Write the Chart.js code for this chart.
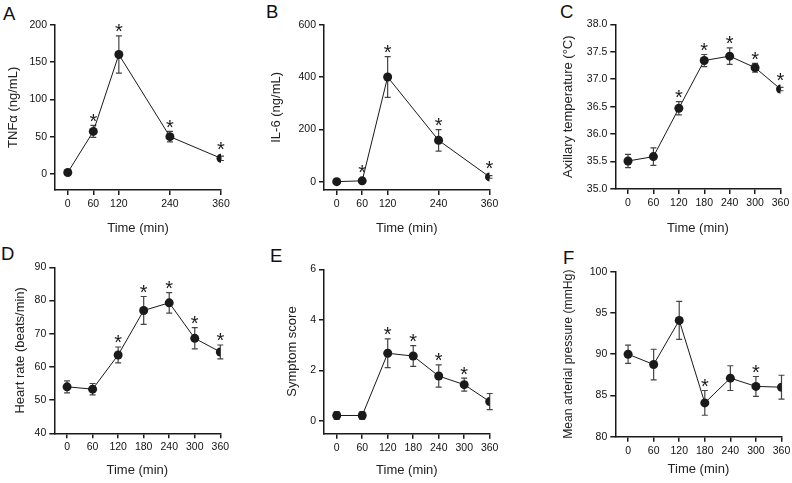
<!DOCTYPE html>
<html>
<head>
<meta charset="utf-8">
<script src="https://cdn.jsdelivr.net/npm/chart.js@4.4.0/dist/chart.umd.min.js"></script>
<style>
  body { margin: 0; background: #fff; width: 792px; height: 483px; position: relative; overflow: hidden;
         font-family: "Liberation Sans", Arial, sans-serif; }
  canvas { position: absolute; }
  .letter { position: absolute; font-size: 18.5px; line-height: 18.5px; color: #111; }
</style>
</head>
<body>
<div class="letter" style="left:3px;top:4.5px">A</div>
<div class="letter" style="left:266px;top:3px">B</div>
<div class="letter" style="left:560px;top:3px">C</div>
<div class="letter" style="left:1px;top:245px">D</div>
<div class="letter" style="left:270px;top:247px">E</div>
<div class="letter" style="left:563px;top:248.5px">F</div>

<canvas id="chartA"></canvas>
<canvas id="chartB"></canvas>
<canvas id="chartC"></canvas>
<canvas id="chartD"></canvas>
<canvas id="chartE"></canvas>
<canvas id="chartF"></canvas>

<script>
// time points
const timesAB = [0, 60, 120, 240, 360];
const timesCF = [0, 60, 120, 180, 240, 300, 360];
const xTicksAB = [0, 60, 120, 240, 360];
const xTicksCF = [0, 60, 120, 180, 240, 300, 360];

// A - TNFa
const tnfMean = [2, 57, 160, 50, 21];
const tnfErr = [1, 8, 25, 7, 3];
const tnfSig = [0, 1, 1, 1, 1];
const tnfTicks = [0, 50, 100, 150, 200];

// B - IL-6
const il6Mean = [0, 3, 400, 158, 18];
const il6Err = [2, 3, 78, 41, 5];
const il6Sig = [0, 1, 1, 1, 1];
const il6Ticks = [0, 200, 400, 600];

// C - axillary temperature
const tempMean = [35.51, 35.59, 36.47, 37.34, 37.42, 37.21, 36.82];
const tempErr = [0.12, 0.16, 0.12, 0.11, 0.15, 0.08, 0.03];
const tempSig = [0, 0, 1, 1, 1, 1, 1];
const tempTicks = [35.0, 35.5, 36.0, 36.5, 37.0, 37.5, 38.0];

// D - heart rate
const hrMean = [54.0, 53.3, 63.6, 77.0, 79.3, 68.6, 64.5];
const hrErr = [1.8, 1.7, 2.4, 4.2, 3.1, 3.2, 2.1];
const hrSig = [0, 0, 1, 1, 1, 1, 1];
const hrTicks = [40, 50, 60, 70, 80, 90];

// E - symptom score
const symMean = [0.22, 0.22, 2.68, 2.57, 1.78, 1.44, 0.77];
const symErr = [0.15, 0.15, 0.57, 0.41, 0.44, 0.26, 0.32];
const symSig = [0, 0, 1, 1, 1, 1, 0];
const symTicks = [0, 2, 4, 6];

// F - mean arterial pressure
const mapMean = [90.0, 88.75, 94.1, 84.1, 87.1, 86.1, 86.0];
const mapErr = [1.1, 1.85, 2.3, 1.5, 1.5, 1.2, 1.45];
const mapSig = [0, 0, 0, 1, 0, 1, 0];
const mapTicks = [80, 85, 90, 95, 100];

const FONT = '"Liberation Sans", Arial, sans-serif';
const INK = '#1a1a1a';
const TITLE_SIZE = 13;
const TITLE_LH = 16; // px, keeps the title centre on whole pixels

// error bars + significance stars
const errorBarPlugin = {
  id: 'errorBars',
  beforeDatasetsDraw(chart) {
    const ds = chart.data.datasets[0];
    const x = chart.scales.x, y = chart.scales.y;
    const ctx = chart.ctx;
    ctx.save();
    ctx.strokeStyle = '#444';
    ctx.lineWidth = 1.2;
    ds.data.forEach((p, i) => {
      const px = x.getPixelForValue(p.x);
      const top = y.getPixelForValue(p.y + ds.errors[i]);
      const bot = y.getPixelForValue(p.y - ds.errors[i]);
      ctx.beginPath();
      ctx.moveTo(px, top); ctx.lineTo(px, bot);
      ctx.moveTo(px - 3, top); ctx.lineTo(px + 3, top);
      ctx.moveTo(px - 3, bot); ctx.lineTo(px + 3, bot);
      ctx.stroke();
    });
    ctx.restore();
  },
  afterDatasetsDraw(chart) {
    const ds = chart.data.datasets[0];
    const x = chart.scales.x, y = chart.scales.y;
    const ctx = chart.ctx;
    ctx.save();
    ctx.fillStyle = INK;
    ctx.font = '20px ' + FONT;
    ctx.textAlign = 'center';
    ctx.textBaseline = 'alphabetic';
    const m = ctx.measureText('*');
    const shift = (m.actualBoundingBoxDescent - m.actualBoundingBoxAscent) / 2;
    ds.data.forEach((p, i) => {
      if (!ds.stars[i]) return;
      const px = x.getPixelForValue(p.x);
      const top = Math.min(y.getPixelForValue(p.y + ds.errors[i]), y.getPixelForValue(p.y) - 4.5);
      const cy = top - 7.5;
      ctx.fillText('*', px, cy - shift);
    });
    ctx.restore();
  }
};

function makePanel(cfg) {
  const canvas = document.getElementById(cfg.id);
  const ySize = cfg.yTitleSize || TITLE_SIZE;
  const cLeft = Math.round(cfg.yTitleX - TITLE_LH / 2);
  const cTop = cfg.cellTop;
  const cWidth = Math.round(cfg.box.right + 16) - cLeft;
  const cHeight = Math.round(cfg.xTitleY + TITLE_LH / 2) - cTop;
  canvas.width = cWidth;
  canvas.height = cHeight;
  canvas.style.left = cLeft + 'px';
  canvas.style.top = cTop + 'px';
  canvas.style.width = cWidth + 'px';
  canvas.style.height = cHeight + 'px';

  const yWidth = cfg.box.left - cLeft;
  const xHeight = cHeight - (cfg.box.bottom - cTop);

  const axisLine = { display: true, color: INK, width: 1.5 };
  const tickGrid = { display: true, drawOnChartArea: false, drawTicks: true, tickLength: 5, color: INK, lineWidth: 1.5 };
  const tickFont = { family: FONT, size: 10.5, weight: 'normal' };

  return new Chart(canvas.getContext('2d'), {
    type: 'line',
    data: {
      datasets: [{
        data: cfg.times.map((t, i) => ({ x: t, y: cfg.mean[i] })),
        errors: cfg.err,
        stars: cfg.sig,
        borderColor: INK,
        borderWidth: 1,
        pointRadius: 4.5,
        pointBackgroundColor: INK,
        pointBorderWidth: 0,
        tension: 0
      }]
    },
    options: {
      responsive: false,
      animation: false,
      layout: { padding: { left: 0, bottom: 0, top: cfg.box.top - cTop, right: cLeft + cWidth - cfg.box.right } },
      plugins: { legend: { display: false }, tooltip: { enabled: false } },
      scales: {
        x: {
          type: 'linear',
          min: -30,
          max: 360,
          border: axisLine,
          grid: tickGrid,
          ticks: { font: tickFont, color: '#111', padding: 3, maxRotation: 0, autoSkip: false },
          afterBuildTicks: s => { s.ticks = cfg.xTicks.map(v => ({ value: v })); },
          afterFit: s => { s.height = xHeight; },
          title: { display: true, text: 'Time (min)', color: '#222', padding: 0,
                   font: { family: FONT, size: TITLE_SIZE, weight: 'normal', lineHeight: TITLE_LH / TITLE_SIZE } }
        },
        y: {
          min: cfg.yMin,
          max: cfg.yMax,
          border: axisLine,
          grid: tickGrid,
          ticks: { font: tickFont, color: '#111', padding: 3, callback: cfg.yFmt || (v => String(v)) },
          afterBuildTicks: s => { s.ticks = cfg.yTicks.map(v => ({ value: v })); },
          afterFit: s => { s.width = yWidth; },
          title: { display: true, text: cfg.yTitle, color: '#222', padding: 0,
                   font: { family: FONT, size: ySize, weight: 'normal', lineHeight: TITLE_LH / ySize } }
        }
      }
    },
    plugins: [errorBarPlugin]
  });
}

makePanel({ id: 'chartA', cellTop: 0, box: { left: 55, right: 221, top: 24.7, bottom: 190 },
  yTitleX: 12.5, xTitleY: 227.7, times: timesAB, xTicks: xTicksAB,
  mean: tnfMean, err: tnfErr, sig: tnfSig, yTicks: tnfTicks, yMin: -21.5, yMax: 200, yTitle: 'TNFα (ng/mL)' });

makePanel({ id: 'chartB', cellTop: 0, box: { left: 324, right: 489.5, top: 24.7, bottom: 190 },
  yTitleX: 276, xTitleY: 227.7, times: timesAB, xTicks: xTicksAB,
  mean: il6Mean, err: il6Err, sig: il6Sig, yTicks: il6Ticks, yMin: -32, yMax: 600, yTitle: 'IL-6 (ng/mL)' });

makePanel({ id: 'chartC', cellTop: 0, box: { left: 615.3, right: 780.5, top: 24.3, bottom: 189 },
  yTitleX: 568, xTitleY: 227.7, times: timesCF, xTicks: xTicksCF,
  mean: tempMean, err: tempErr, sig: tempSig, yTicks: tempTicks, yMin: 35, yMax: 38,
  yFmt: v => v.toFixed(1), yTitle: 'Axillary temperature (°C)' });

makePanel({ id: 'chartD', cellTop: 241, box: { left: 54.3, right: 220.3, top: 267.3, bottom: 433.3 },
  yTitleX: 20, xTitleY: 470.3, times: timesCF, xTicks: xTicksCF,
  mean: hrMean, err: hrErr, sig: hrSig, yTicks: hrTicks, yMin: 40, yMax: 90, yTitle: 'Heart rate (beats/min)' });

makePanel({ id: 'chartE', cellTop: 241, box: { left: 324, right: 489.7, top: 269.3, bottom: 433.7 },
  yTitleX: 291.7, xTitleY: 470.3, times: timesCF, xTicks: xTicksCF,
  mean: symMean, err: symErr, sig: symSig, yTicks: symTicks, yMin: -0.5, yMax: 6, yTitle: 'Symptom score' });

makePanel({ id: 'chartF', cellTop: 241, box: { left: 615.3, right: 781.5, top: 271.7, bottom: 436.7 },
  yTitleX: 569.3, yTitleSize: 12.2, xTitleY: 468.7, times: timesCF, xTicks: xTicksCF,
  mean: mapMean, err: mapErr, sig: mapSig, yTicks: mapTicks, yMin: 80, yMax: 100, yTitle: 'Mean arterial pressure (mmHg)' });
</script>
</body>
</html>
